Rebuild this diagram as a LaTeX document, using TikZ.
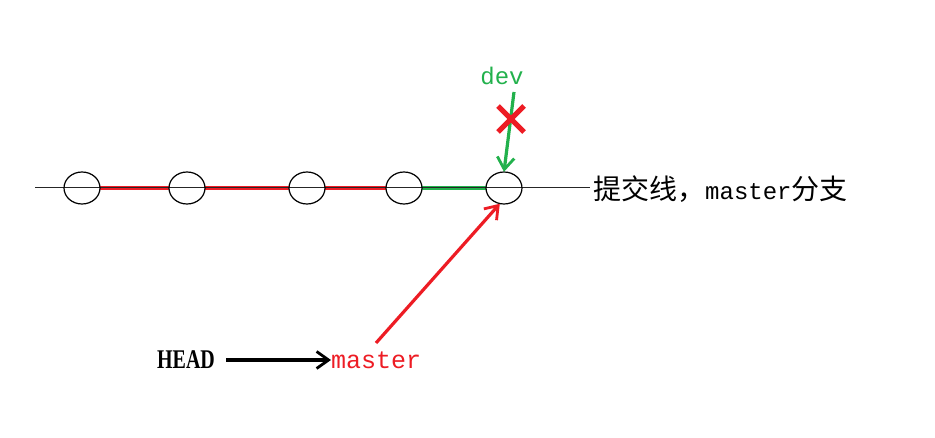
\documentclass[tikz,border=0pt]{standalone}
\usepackage{fontspec}
\setmainfont{Liberation Serif}
\newfontfamily\cjk{Noto Sans CJK SC}
\newfontfamily\monof{Liberation Mono}
\usetikzlibrary{arrows.meta,shapes.geometric}
\definecolor{gitred}{RGB}{237,28,36}
\definecolor{gitgreen}{RGB}{34,177,76}
\begin{document}
\begin{tikzpicture}[x=1pt,y=-1pt,
  commit/.style={ellipse,minimum width=36pt,minimum height=32pt,inner sep=0pt},
  redline/.style={gitred,line width=4pt},
  greenline/.style={gitgreen,line width=4pt},
  opentip/.style={-{Straight Barb[length=12pt,width=17pt,line width=2.8pt]}}]
\useasboundingbox (0,0) rectangle (935,438);
\coordinate (L) at (35,188);
\coordinate (R) at (590,188);
\node[commit] (c1) at (82,188) {};
\node[commit] (c2) at (187,188) {};
\node[commit] (c3) at (307,188) {};
\node[commit] (c4) at (404,188) {};
\node[commit] (c5) at (504,188) {};
\draw[redline] (c1.east) -- (c2.west);
\draw[redline] (c2.east) -- (c3.west);
\draw[redline] (c3.east) -- (c4.west);
\draw[greenline] (c4.east) -- (c5.west);
\draw[line width=1pt,black!85] (L) -- (R);
\foreach \n in {c1,c2,c3,c4,c5}{\draw[line width=1.2pt] (\n) ellipse (18pt and 16pt);}
\node[anchor=west,inner sep=0pt] (label) at (593,189) {\cjk\fontsize{28}{30}\selectfont 提交线，\monof\fontsize{24}{26}\selectfont master\cjk\fontsize{28}{30}\selectfont 分支};
\node[text=gitgreen,inner sep=0pt] (dev) at (502,76) {\monof\fontsize{24}{26}\selectfont dev};
\coordinate (devs) at (514,92);
\draw[gitgreen,line width=3.2pt,opentip] (devs) -- (c5.north);
\coordinate (x1) at (498,106);
\coordinate (x2) at (524,132);
\coordinate (x3) at (524,106);
\coordinate (x4) at (498,132);
\draw[gitred,line width=5pt] (x1) -- (x2);
\draw[gitred,line width=5pt] (x3) -- (x4);
\node[inner sep=0pt,anchor=west,xscale=0.74] (head) at (157,360) {\fontsize{27}{30}\selectfont\bfseries HEAD};
\node[inner sep=0pt,anchor=west,text=gitred] (master) at (331,360) {\monof\fontsize{25}{28}\selectfont master};
\coordinate (hs) at (226,360);
\draw[line width=3.2pt,opentip] (hs) -- (master.west);
\coordinate (ms) at (376,343);
\draw[gitred,line width=3.2pt,opentip] (ms) -- (c5.-105);
\end{tikzpicture}
\end{document}
